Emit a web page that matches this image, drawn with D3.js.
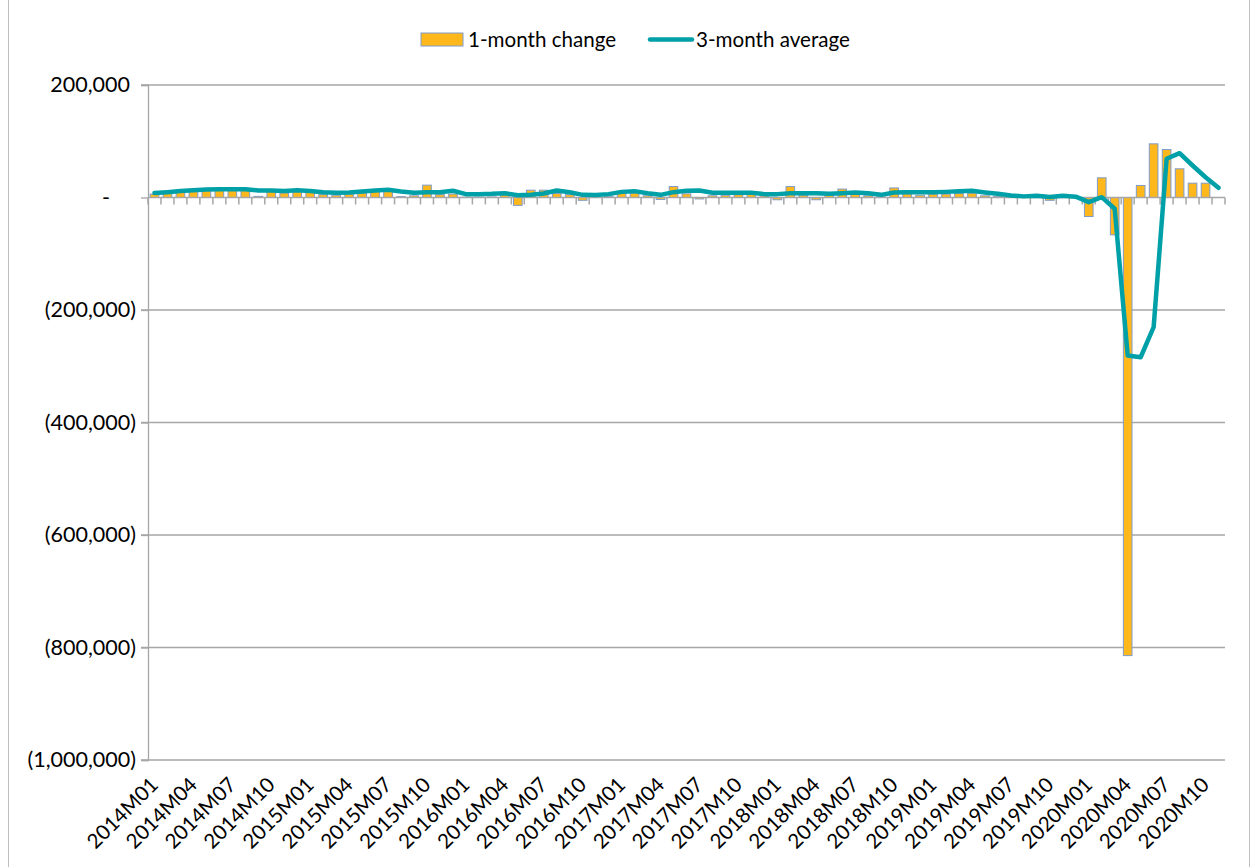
<!DOCTYPE html>
<html>
<head>
<meta charset="utf-8">
<script src="https://cdnjs.cloudflare.com/ajax/libs/d3/7.8.5/d3.min.js"></script>
<style>
  body { margin: 0; background: #fff; }
  svg text { font-family: Lato, "Liberation Sans", sans-serif; fill: #000; }
</style>
</head>
<body>
<svg id="chart" width="1257" height="867"></svg>
<script>
const width = 1257;
const height = 867;
const margin = {top: 85, right: 32, bottom: 107, left: 148};

const years = [2014, 2015, 2016, 2017, 2018, 2019, 2020];
const lastMonth = '2020M11';

// 1-month change, by month from 2014M01
const change = [
  6000, 8000, 10000, 13000, 15000, 14000, 15000, 14000, 2000, 11000, 8000, 12000,
  9000, 5000, 4000, 6000, 8000, 11000, 12000, 1500, 3000, 22000, 5000, 6000,
  500, 500, 1000, 7000, -14000, 13000, 13000, 7000, 5000, -5000, 1000, 2000,
  7700, 7700, 3000, -3500, 19500, 6500, -2500, 3000, 4000, 5000, 6000, 3000,
  -4000, 19500, 4000, -4000, 4000, 15000, 6000, 3000, 1000, 17000, 6500, 4000,
  6000, 6000, 7000, 7700, 3000, 2000, 1000, 1000, 3000, -5000, 5000, 1000,
  -33800, 35000, -66400, -814400, 21300, 95400, 85300, 51000, 25500, 25500, 0
];

// 3-month average
const average = [
  8000, 9500, 11500, 13000, 14200, 14800, 14800, 14500, 12500, 12400, 11500, 13000,
  11500, 9400, 8500, 9000, 10500, 12500, 13600, 10500, 8500, 9400, 9400, 12000,
  6000, 6000, 6500, 7700, 4000, 5000, 7000, 12400, 9400, 4700, 4500, 6000,
  10000, 11300, 7700, 4700, 9500, 12000, 12400, 8500, 8300, 8300, 8300, 6000,
  6000, 7700, 7700, 7700, 6500, 7500, 9000, 7500, 4700, 9000, 9400, 9400,
  9500, 10000, 11000, 12000, 9000, 6500, 3500, 2000, 3000, 1000, 3000, 1500,
  -8300, 600, -20000, -281000, -284000, -230600, 68800, 78800, 56900, 36000, 17200
];

const yTicks = [200000, 0, -200000, -400000, -600000, -800000, -1000000];
const yTickLabels = ['200,000', '-', '(200,000)', '(400,000)', '(600,000)', '(800,000)', '(1,000,000)'];
const legendLabels = ['1-month change', '3-month average'];

const barColor = '#FFB81C';
const barStroke = '#7F9CCB';
const lineColor = '#00A0A8';
const gridColor = '#A6A6A6';

let months = [];
years.forEach(y => {
  for (let m = 1; m <= 12; m++) months.push(`${y}M${String(m).padStart(2, '0')}`);
});
months = months.slice(0, months.indexOf(lastMonth) + 1);

const svg = d3.select('#chart');

// chart border
svg.append('rect')
  .attr('x', 8.5).attr('y', -1)
  .attr('width', 1241).attr('height', 869)
  .attr('fill', 'none')
  .attr('stroke', '#BFBFBF');

const x = d3.scaleBand()
  .domain(months)
  .range([margin.left, width - margin.right])
  .paddingInner(1 / 3)
  .paddingOuter(1 / 6);

const y = d3.scaleLinear()
  .domain([-1000000, 200000])
  .range([height - margin.bottom, margin.top]);

// gridlines
svg.append('g')
  .selectAll('line')
  .data(yTicks.filter(d => d !== 0))
  .join('line')
  .attr('x1', margin.left - 7)
  .attr('x2', width - margin.right)
  .attr('y1', d => y(d))
  .attr('y2', d => y(d))
  .attr('stroke', gridColor)
  .attr('stroke-width', 1.3);

// y axis
const yAxis = svg.append('g')
  .attr('transform', `translate(${margin.left},0)`)
  .call(d3.axisLeft(y).tickValues(yTicks).tickSize(7).tickPadding(5)
    .tickFormat((d, i) => yTickLabels[i]));
yAxis.select('.domain').attr('stroke', gridColor).attr('stroke-width', 1.3);
yAxis.selectAll('.tick line').attr('stroke', gridColor).attr('stroke-width', 1.3);
yAxis.selectAll('.tick text')
  .attr('font-size', 21.5)
  .attr('font-family', 'Lato')
  .attr('dx', d => d > 0 ? -6 : (d === 0 ? -26 : 0));

// bars
svg.append('g')
  .selectAll('rect')
  .data(change)
  .join('rect')
  .attr('x', (d, i) => x(months[i]))
  .attr('width', x.bandwidth())
  .attr('y', d => y(Math.max(0, d)))
  .attr('height', d => Math.abs(y(d) - y(0)))
  .attr('fill', barColor)
  .attr('stroke', barStroke)
  .attr('stroke-width', 1);

// category axis at zero
const step = x.step();
svg.append('line')
  .attr('x1', margin.left)
  .attr('x2', width - margin.right)
  .attr('y1', y(0))
  .attr('y2', y(0))
  .attr('stroke', gridColor)
  .attr('stroke-width', 1.5);

svg.append('g')
  .selectAll('line')
  .data(d3.range(months.length + 1))
  .join('line')
  .attr('x1', i => margin.left + i * step)
  .attr('x2', i => margin.left + i * step)
  .attr('y1', y(0))
  .attr('y2', y(0) + 7)
  .attr('stroke', gridColor)
  .attr('stroke-width', 1.5);

// 3-month average line
const line = d3.line()
  .x((d, i) => x(months[i]) + x.bandwidth() / 2)
  .y(d => y(d));

svg.append('path')
  .datum(average)
  .attr('d', line)
  .attr('fill', 'none')
  .attr('stroke', lineColor)
  .attr('stroke-width', 4.5)
  .attr('stroke-linejoin', 'round')
  .attr('stroke-linecap', 'round');

// x labels every quarter
svg.append('g')
  .selectAll('text')
  .data(months.filter((m, i) => i % 3 === 0))
  .join('text')
  .attr('transform', m => `translate(${x(m) + x.bandwidth() / 2 + 5},${height - margin.bottom + 26}) rotate(-45)`)
  .attr('text-anchor', 'end')
  .attr('font-size', 20.5)
  .text(m => m);

// legend
const legend = svg.append('g');
legend.append('rect')
  .attr('x', 421).attr('y', 33)
  .attr('width', 42).attr('height', 13)
  .attr('fill', barColor)
  .attr('stroke', barStroke);
legend.append('text')
  .attr('x', 468).attr('y', 46.5)
  .attr('font-size', 20.6)
  .text(legendLabels[0]);
legend.append('line')
  .attr('x1', 650).attr('x2', 692)
  .attr('y1', 39.5).attr('y2', 39.5)
  .attr('stroke', lineColor)
  .attr('stroke-width', 4.5)
  .attr('stroke-linecap', 'round');
legend.append('text')
  .attr('x', 696).attr('y', 46.5)
  .attr('font-size', 20.6)
  .text(legendLabels[1]);
</script>
</body>
</html>
